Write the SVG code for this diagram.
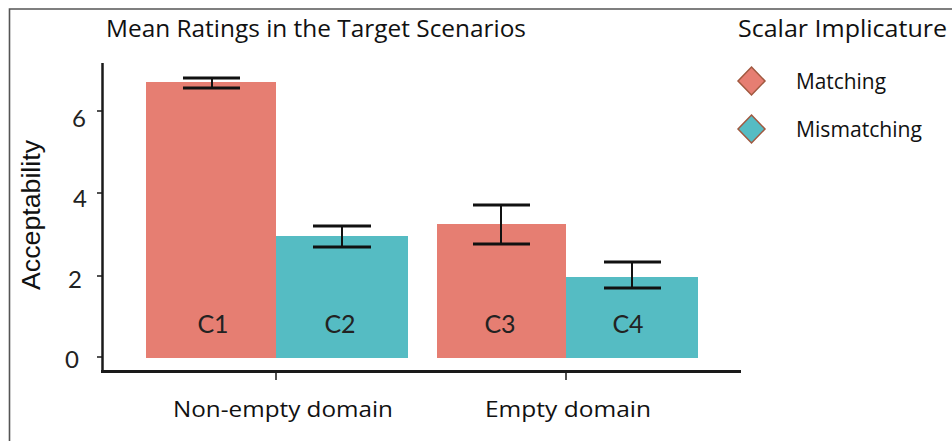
<svg xmlns="http://www.w3.org/2000/svg" width="952" height="441" viewBox="0 0 952 441">
<style>
.frame{stroke:#555;stroke-width:1.6;fill:none}
.axis{stroke:#1a1a1a;fill:none}
.err{stroke:#111;stroke-width:3;fill:none}
.stem{stroke:#111;stroke-width:2;fill:none}
.m{fill:#E67E72}
.mm{fill:#55BCC3}
.lbl{font-family:"Open Sans","Noto Sans","Liberation Sans",sans-serif;fill:#111}
.tick{font-family:Lato,"Open Sans",sans-serif;font-size:24px;fill:#222}
.bar{font-family:Lato,"Open Sans",sans-serif;font-size:25px;fill:#222;text-anchor:middle}
.ylab{font-family:"Liberation Sans",Arial,sans-serif;font-size:25px;fill:#111;text-anchor:middle}
.dia{stroke:#A0583F;stroke-width:1.5}
</style>
<rect width="952" height="441" fill="#fff"/>
<path class="frame" d="M9.5,441 V9 H952"/>
<text class="lbl" x="106" y="37" font-size="23" textLength="420" lengthAdjust="spacingAndGlyphs">Mean Ratings in the Target Scenarios</text>
<g id="legend">
<text class="lbl" x="738" y="37" font-size="23" textLength="209" lengthAdjust="spacingAndGlyphs">Scalar Implicature</text>
<g id="legend-matching">
<path class="m dia" d="M751.5,67 L765,81 L751.5,95 L738,81 Z"/>
<text class="lbl" x="796" y="89" font-size="22" textLength="90" lengthAdjust="spacingAndGlyphs">Matching</text>
</g>
<g id="legend-mismatching">
<path class="mm dia" d="M751.5,115 L765,129 L751.5,143 L738,129 Z"/>
<text class="lbl" x="796" y="137" font-size="22" textLength="126" lengthAdjust="spacingAndGlyphs">Mismatching</text>
</g>
</g>
<g id="axes">
<path class="axis" stroke-width="2.5" d="M102.5,63 V372"/>
<path class="axis" stroke-width="3" d="M101,371.5 H741"/>
<path class="axis" stroke-width="1.5" d="M97,111 H102 M97,193 H102 M97,276 H102 M97,357 H102"/>
<path class="axis" stroke-width="1.5" d="M276,372 V380 M566,372 V380"/>
<text class="tick" x="72" y="127">6</text>
<text class="tick" x="73" y="207">4</text>
<text class="tick" x="68" y="288">2</text>
<text class="tick" x="65" y="368">0</text>
<text class="ylab" transform="translate(40,215) rotate(-90)" textLength="150" lengthAdjust="spacingAndGlyphs">Acceptability</text>
<text class="lbl" x="173" y="417" font-size="22" textLength="220" lengthAdjust="spacingAndGlyphs">Non-empty domain</text>
<text class="lbl" x="485" y="417" font-size="22" textLength="166" lengthAdjust="spacingAndGlyphs">Empty domain</text>
</g>
<g id="C1">
<rect class="m" x="146" y="82" width="130" height="276"/>
<path class="stem" d="M212,78 V88"/>
<path class="err" d="M183,78 H240 M183,88 H240"/>
<text class="bar" x="213" y="333">C1</text>
</g>
<g id="C2">
<rect class="mm" x="276" y="236" width="132" height="122"/>
<path class="stem" d="M342,226 V247"/>
<path class="err" d="M313,226 H371 M313,247 H371"/>
<text class="bar" x="340" y="333">C2</text>
</g>
<g id="C3">
<rect class="m" x="437" y="224" width="129" height="134"/>
<path class="stem" d="M501,205 V244"/>
<path class="err" d="M473,205 H530 M473,244 H530"/>
<text class="bar" x="500" y="333">C3</text>
</g>
<g id="C4">
<rect class="mm" x="566" y="277" width="132" height="81"/>
<path class="stem" d="M632,262 V288"/>
<path class="err" d="M604,262 H661 M604,288 H661"/>
<text class="bar" x="628" y="333">C4</text>
</g>
</svg>
